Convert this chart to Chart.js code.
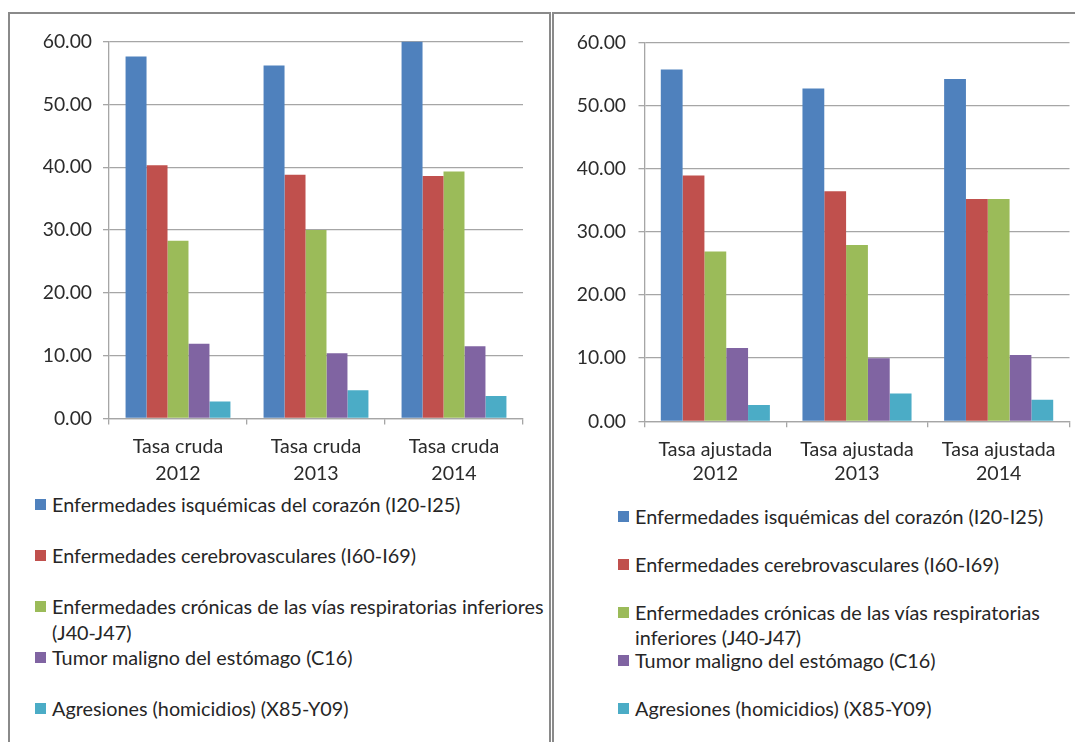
<!DOCTYPE html>
<html lang="es">
<head>
<meta charset="UTF-8">
<title>Tasas de mortalidad</title>
<script src="https://cdn.jsdelivr.net/npm/chart.js"></script>
<style>
  body { margin: 0; background: #fff; width: 1075px; height: 742px; overflow: hidden; position: relative; font-family: Lato, sans-serif; color: #262626; }
  .panel { position: absolute; border: 2px solid #8a8a8a; }
  #panelLeft { left: 8px; top: 12px; width: 539px; height: 760px; }
  #panelRight { left: 552px; top: 12px; width: 560px; height: 760px; }
  canvas { position: absolute; }
  .legend { position: absolute; }
  .item { position: absolute; left: 0; display: flex; align-items: flex-start; font-size: 19.8px; }
  .item .box { width: 11px; height: 11px; flex: none; margin-right: 6px; }
</style>
</head>
<body>
<div class="panel" id="panelLeft"></div>
<div class="panel" id="panelRight"></div>
<canvas id="crudaChart" width="538" height="470" style="left:10px;top:15px"></canvas>
<canvas id="ajustadaChart" width="519" height="470" style="left:556px;top:15px"></canvas>
<div class="legend" id="legendLeft" style="left:35px;top:492px;width:515px"></div>
<div class="legend" id="legendRight" style="left:618px;top:504px;width:440px"></div>
<script>
  const seriesNames = [
    'Enfermedades isquémicas del corazón (I20-I25)',
    'Enfermedades cerebrovasculares (I60-I69)',
    'Enfermedades crónicas de las vías respiratorias inferiores (J40-J47)',
    'Tumor maligno del estómago (C16)',
    'Agresiones (homicidios) (X85-Y09)'
  ];
  const seriesColors = ['#4f81bd', '#c0504d', '#9bbb59', '#8064a2', '#4bacc6'];

  const crudaLabels = [['Tasa cruda', '2012'], ['Tasa cruda', '2013'], ['Tasa cruda', '2014']];
  const ajustadaLabels = [['Tasa ajustada', '2012'], ['Tasa ajustada', '2013'], ['Tasa ajustada', '2014']];

  // tasa cruda, por año 2012-2014
  const crudaIsquemicas = [57.6, 56.2, 60.0];
  const crudaCerebro = [40.3, 38.8, 38.6];
  const crudaRespiratorias = [28.3, 30.0, 39.3];
  const crudaEstomago = [11.9, 10.4, 11.5];
  const crudaAgresiones = [2.7, 4.5, 3.6];

  // tasa ajustada, por año 2012-2014
  const ajustadaIsquemicas = [55.7, 52.7, 54.2];
  const ajustadaCerebro = [38.9, 36.4, 35.2];
  const ajustadaRespiratorias = [26.9, 27.9, 35.2];
  const ajustadaEstomago = [11.6, 10.0, 10.5];
  const ajustadaAgresiones = [2.6, 4.4, 3.4];

  const yTicks = [0, 10, 20, 30, 40, 50, 60];

  Chart.defaults.font.family = 'Lato, sans-serif';
  Chart.defaults.color = '#2b2b2b';

  function makeChart(canvasId, labels, series, lay) {
    const ctx = document.getElementById(canvasId).getContext('2d');
    return new Chart(ctx, {
      type: 'bar',
      data: {
        labels: labels,
        datasets: series.map((values, i) => ({
          label: seriesNames[i],
          data: values,
          backgroundColor: seriesColors[i],
          barPercentage: 1,
          categoryPercentage: lay.catPct
        }))
      },
      options: {
        responsive: false,
        animation: false,
        layout: { padding: { left: 0, right: lay.padRight, top: lay.padTop, bottom: 0 } },
        plugins: { legend: { display: false }, tooltip: { enabled: false } },
        scales: {
          x: {
            afterFit: s => { s.height = lay.xHeight; },
            grid: { drawOnChartArea: false, tickLength: 6, color: '#a6a6a6', lineWidth: 1.3 },
            border: { color: '#a6a6a6', width: 1.3 },
            ticks: { padding: lay.xPad, maxRotation: 0, font: { size: 19.6, lineHeight: lay.xLine } }
          },
          y: {
            min: 0,
            max: yTicks[yTicks.length - 1],
            afterFit: s => { s.width = lay.yWidth; },
            afterBuildTicks: s => { s.ticks = yTicks.map(v => ({ value: v })); },
            grid: { tickLength: 6, color: '#a6a6a6', lineWidth: 1.3 },
            border: { color: '#a6a6a6', width: 1.3 },
            ticks: { padding: lay.yPad, font: { size: 19.3 }, callback: v => v.toFixed(2) }
          }
        }
      }
    });
  }

  function makeLegend(id, step, lineHeight) {
    const box = document.getElementById(id);
    seriesNames.forEach((name, i) => {
      const item = document.createElement('div');
      item.className = 'item';
      item.style.top = (i * step) + 'px';
      item.style.lineHeight = lineHeight + 'px';
      const sw = document.createElement('span');
      sw.className = 'box';
      sw.style.background = seriesColors[i];
      sw.style.marginTop = ((lineHeight - 11) / 2) + 'px';
      const txt = document.createElement('span');
      txt.textContent = name;
      item.appendChild(sw);
      item.appendChild(txt);
      box.appendChild(item);
    });
  }

  makeChart('crudaChart', crudaLabels,
    [crudaIsquemicas, crudaCerebro, crudaRespiratorias, crudaEstomago, crudaAgresiones],
    { catPct: 0.76, padRight: 25, padTop: 26.5, xHeight: 66.5, xPad: 9, xLine: 1.36, yWidth: 99, yPad: 11 });

  makeChart('ajustadaChart', ajustadaLabels,
    [ajustadaIsquemicas, ajustadaCerebro, ajustadaRespiratorias, ajustadaEstomago, ajustadaAgresiones],
    { catPct: 0.77, padRight: 5.5, padTop: 27.3, xHeight: 63.7, xPad: 10.7, xLine: 1.225, yWidth: 88.5, yPad: 12.5 });

  makeLegend('legendLeft', 51, 25.6);
  makeLegend('legendRight', 48, 24.7);
</script>
</body>
</html>
